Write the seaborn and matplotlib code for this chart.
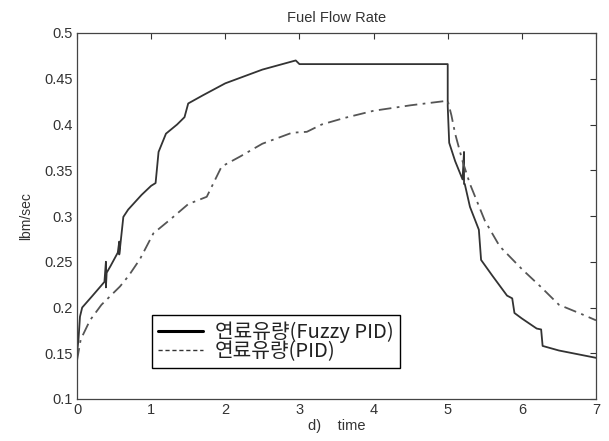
import numpy as np
import pandas as pd
import matplotlib
matplotlib.use("Agg")
import matplotlib.pyplot as plt
from matplotlib.lines import Line2D
import seaborn as sns

# ---- data ----
fuzzy_t = [0.0, 0.02, 0.04, 0.07, 0.2, 0.37, 0.39, 0.39, 0.40, 0.45, 0.55, 0.57, 0.57, 0.58,
           0.625, 0.69, 0.87, 1.0, 1.06, 1.1, 1.2, 1.35, 1.45, 1.5, 1.7, 2.0, 2.5, 2.95, 3.0,
           5.0, 5.0, 5.02, 5.1, 5.2, 5.22, 5.22, 5.23, 5.3, 5.42, 5.45, 5.6, 5.8, 5.87, 5.9,
           6.0, 6.2, 6.26, 6.28, 6.5, 7.0]
fuzzy_v = [0.15, 0.165, 0.19, 0.2, 0.212, 0.228, 0.25, 0.222, 0.238, 0.245, 0.26, 0.272, 0.258, 0.265,
           0.299, 0.307, 0.323, 0.333, 0.336, 0.37, 0.39, 0.40, 0.408, 0.423, 0.432, 0.445, 0.46, 0.47, 0.466,
           0.466, 0.42, 0.38, 0.36, 0.34, 0.37, 0.335, 0.335, 0.31, 0.285, 0.252, 0.235, 0.213, 0.21, 0.194,
           0.188, 0.177, 0.176, 0.158, 0.153, 0.145]

pid_t = [0.0, 0.05, 0.175, 0.33, 0.58, 0.7, 0.85, 1.03, 1.255, 1.5, 1.75, 1.95, 2.2, 2.5, 2.9,
         3.1, 3.3, 3.6, 4.0, 4.5, 5.0, 5.05, 5.1, 5.2, 5.3, 5.5, 5.7, 6.0, 6.25, 6.5, 6.8, 7.0]
pid_v = [0.142, 0.165, 0.186, 0.203, 0.223, 0.235, 0.253, 0.281, 0.296, 0.313, 0.321, 0.354, 0.365,
         0.379, 0.391, 0.392, 0.40, 0.407, 0.415, 0.421, 0.426, 0.41, 0.39, 0.36, 0.335, 0.295,
         0.267, 0.242, 0.223, 0.203, 0.193, 0.186]

x_ticks = [0, 1, 2, 3, 4, 5, 6, 7]
y_ticks = [0.1, 0.15, 0.2, 0.25, 0.3, 0.35, 0.4, 0.45, 0.5]
y_tick_labels = ["0.1", "0.15", "0.2", "0.25", "0.3", "0.35", "0.4", "0.45", "0.5"]
legend_labels = ["연료유량(Fuzzy PID)", "연료유량(PID)"]

sns.set_style("white")
plt.rcParams['font.family'] = ['Liberation Sans', 'Noto Sans CJK KR', 'DejaVu Sans']

fig = plt.figure(figsize=(6.09, 4.41), dpi=100)
ax = fig.add_axes([77 / 609, 1 - 399 / 441, (596 - 77) / 609, (399 - 33) / 441])

df_f = pd.DataFrame({"t": fuzzy_t, "v": fuzzy_v})
df_p = pd.DataFrame({"t": pid_t, "v": pid_v})
sns.lineplot(data=df_f, x="t", y="v", ax=ax, estimator=None, sort=False,
             color="#333333", linewidth=1.3)
sns.lineplot(data=df_p, x="t", y="v", ax=ax, estimator=None, sort=False,
             color="#555555", linewidth=1.3, linestyle=(0, (7, 3, 1.5, 3)))

ax.set_xlim(0, 7)
ax.set_ylim(0.1, 0.5)
ax.set_xticks(x_ticks)
ax.set_yticks(y_ticks)
ax.set_yticklabels(y_tick_labels)
ax.tick_params(direction="in", length=4, width=0.8, top=True, right=True,
               labelsize=10.5, colors="#333333", labelcolor="#333333", pad=3)
for s in ax.spines.values():
    s.set_color("#444444")
    s.set_linewidth(0.9)

ax.set_title("Fuel Flow Rate", fontsize=10.5, color="#333333", pad=8)
ax.set_xlabel("d)    time", fontsize=10.5, color="#333333", labelpad=1)
ax.set_ylabel("lbm/sec", fontsize=10, color="#333333", labelpad=8)

handles = [Line2D([], [], color="black", linewidth=2.2),
           Line2D([], [], color="#333333", linewidth=1.0, linestyle=(0, (3, 2)))]
leg = fig.legend(handles, legend_labels, loc="lower left",
                 bbox_to_anchor=(152 / 609, 1 - 368 / 441), borderaxespad=0,
                 frameon=True, fancybox=False, framealpha=1, edgecolor="black",
                 prop={"family": ["Noto Sans CJK KR"], "size": 14.6},
                 handlelength=2.2, handletextpad=0.6, borderpad=0.3, labelspacing=-0.1)
leg.get_frame().set_linewidth(1.0)
for t in leg.get_texts():
    t.set_color("#222222")

fig.savefig("out.png", dpi=100)
